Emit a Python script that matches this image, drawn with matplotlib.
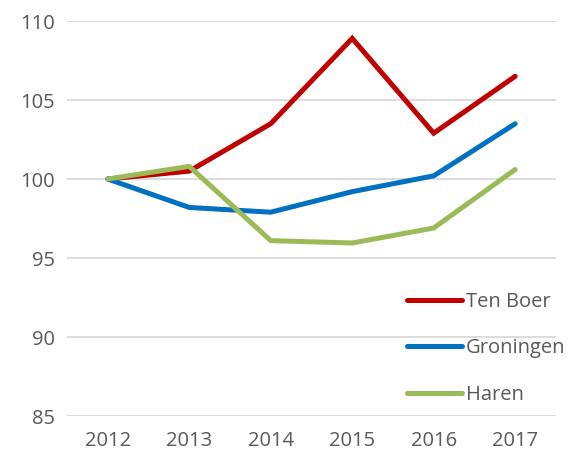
import matplotlib
matplotlib.use("Agg")
import matplotlib.pyplot as plt

years = ["2012", "2013", "2014", "2015", "2016", "2017"]
ten_boer = [100, 100.5, 103.5, 108.9, 102.9, 106.5]
groningen = [100, 98.2, 97.9, 99.2, 100.2, 103.5]
haren = [100, 100.8, 96.1, 95.95, 96.9, 100.6]
yticks = [85, 90, 95, 100, 105, 110]

plt.rcParams['font.family'] = ['Open Sans', 'DejaVu Sans']

fig = plt.figure(figsize=(5.69, 4.57), dpi=100)
ax = fig.add_axes([0.1178, 0.0897, 0.977 - 0.1178, 0.954 - 0.0897])

x = list(range(len(years)))
lw = 3.6
ax.plot(x, ten_boer, color="#C00000", lw=lw, label="Ten Boer", solid_capstyle="round", solid_joinstyle="miter")
ax.plot(x, groningen, color="#0070C0", lw=lw, label="Groningen", solid_capstyle="round", solid_joinstyle="miter")
ax.plot(x, haren, color="#9BBB59", lw=lw, label="Haren", solid_capstyle="round", solid_joinstyle="miter")

ax.set_xlim(-0.5, len(years) - 0.5)
ax.set_ylim(85, 110)
ax.set_yticks(yticks)
ax.set_xticks(x)
ax.set_xticklabels(years)
ax.grid(axis="y", color="#D9D9D9", lw=1.3)
ax.set_axisbelow(True)
for s in ax.spines.values():
    s.set_visible(False)
ax.tick_params(length=0, labelsize=14.5, colors="#595959")
ax.tick_params(axis="x", pad=11)
ax.tick_params(axis="y", pad=9)

leg = ax.legend(loc="lower right", bbox_to_anchor=(1.056, -0.017), frameon=False,
                fontsize=14.5, handlelength=2.7, handletextpad=0.2, labelspacing=1.3)
for t in leg.get_texts():
    t.set_color("#595959")

fig.savefig("out.png", dpi=100)
